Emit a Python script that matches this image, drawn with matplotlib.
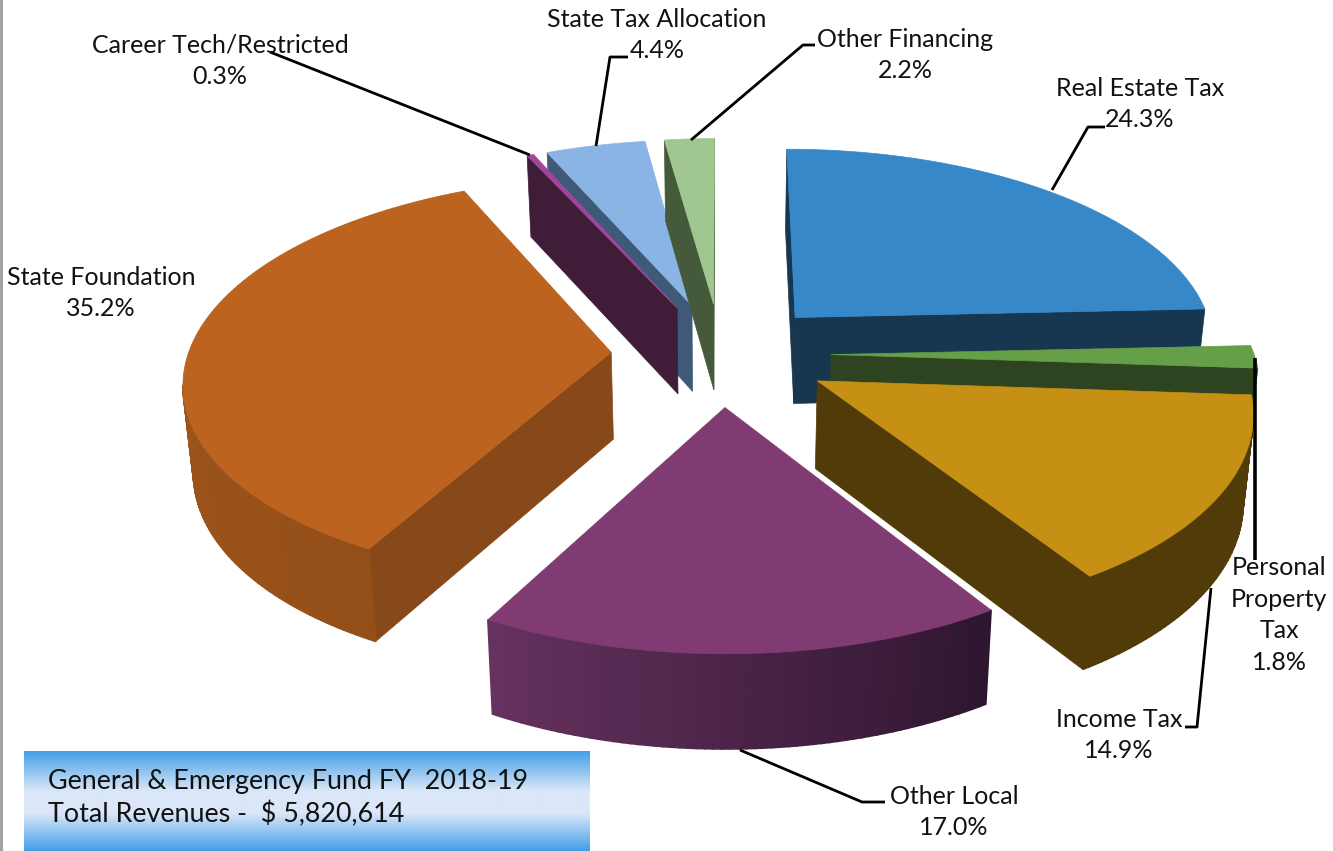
import numpy as np
import matplotlib
matplotlib.use("Agg")
import matplotlib.pyplot as plt
from matplotlib.patches import Polygon, Rectangle
from matplotlib.colors import to_rgb, LinearSegmentedColormap

# ---- data
categories = ["Real Estate Tax", "Personal Property Tax", "Income Tax", "Other Local",
              "State Foundation", "Career Tech/Restricted", "State Tax Allocation", "Other Financing"]
shares = [24.3, 1.8, 14.9, 17.0, 35.2, 0.3, 4.4, 2.2]
top_colors = ["#3688c9", "#659f48", "#c59013", "#803c72", "#bb631f", "#a0469a", "#8ab4e3", "#a0c78f"]
side_start = ["#17364f", "#2e4320", "#513c09", "#66325f", "#a85c1c", "#3f1d38", "#3f5a78", "#455a3a"]
side_end = ["#17364f", "#2e4320", "#513c09", "#2e1530", "#944f19", "#3f1d38", "#3f5a78", "#455a3a"]
cut_colors = ["#17364f", "#2e4320", "#513c09", "#4a2345", "#87491a", "#3f1d38", "#3f5a78", "#455a3a"]
draw_order = [6, 7, 5, 0, 1, 2, 4, 3]

# ---- projection
W, H = 1333, 851
CX, CY = 721.0, 354.0
RX, RY = 423.0, 199.0
PERSP = 0.13
DEPTH = 87.0
SHRINK = 0.02
EXPLODE = 0.26


def project(x, y, low=False):
    w = 1 + PERSP * y
    s = 1 + SHRINK if low else 1
    return (CX + RX * x / (w * s), CY - RY * y / w + (DEPTH / w ** 0.5 if low else 0))


fig = plt.figure(figsize=(W / 100, H / 100), dpi=100)
ax = fig.add_axes([0, 0, 1, 1])
ax.set_xlim(0, W)
ax.set_ylim(H, 0)
ax.axis("off")
plt.rcParams["font.family"] = ["Lato", "DejaVu Sans"]

total = sum(shares)
edges = np.concatenate([[0], np.cumsum(shares)]) / total * 2 * np.pi


def visible(px, py, nx, ny):
    return nx * (0 - px) + ny * (-1 / PERSP - py) > 0


def mix(a, b, t):
    a, b = np.array(to_rgb(a)), np.array(to_rgb(b))
    return tuple(a + (b - a) * t)


for i in draw_order:
    t0, t1 = edges[i], edges[i + 1]
    mid = (t0 + t1) / 2
    ax0, ay0 = EXPLODE * np.sin(mid), EXPLODE * np.cos(mid)
    ts = np.linspace(t0, t1, max(3, int((t1 - t0) * 60)))
    xs = ax0 + np.sin(ts)
    ys = ay0 + np.cos(ts)
    # radial cut faces
    for (ex, ey, nx, ny) in [(xs[0], ys[0], -np.cos(t0), np.sin(t0)),
                             (xs[-1], ys[-1], np.cos(t1), -np.sin(t1))]:
        if visible(ax0, ay0, nx, ny):
            quad = [project(ax0, ay0), project(ex, ey), project(ex, ey, True), project(ax0, ay0, True)]
            ax.add_patch(Polygon(quad, closed=True, fc=cut_colors[i], ec=cut_colors[i], lw=0.5, zorder=2))
    # outer face, strip by strip
    for k in range(len(ts) - 1):
        tm = (ts[k] + ts[k + 1]) / 2
        if visible(ax0 + np.sin(tm), ay0 + np.cos(tm), np.sin(tm), np.cos(tm)):
            c = mix(side_start[i], side_end[i], 1 - (tm - t0) / (t1 - t0))
            quad = [project(xs[k], ys[k]), project(xs[k + 1], ys[k + 1]),
                    project(xs[k + 1], ys[k + 1], True), project(xs[k], ys[k], True)]
            ax.add_patch(Polygon(quad, closed=True, fc=c, ec=c, lw=1.2, zorder=2))
    top = [project(ax0, ay0)] + [project(x, y) for x, y in zip(xs, ys)]
    ax.add_patch(Polygon(top, closed=True, fc=top_colors[i], ec=top_colors[i], lw=0.5, zorder=2))

# ---- leader lines
leaders = [
    ([270, 530], [52, 155], 2.0),
    ([628, 610, 596], [57, 57, 146], 2.0),
    ([815, 803, 691], [45, 45, 140], 2.0),
    ([1105, 1088, 1052], [127, 127, 190], 2.0),
    ([1255, 1255], [358, 560], 2.6),
    ([1185, 1197, 1211], [727, 727, 588], 2.0),
    ([885, 862, 740], [802, 802, 750], 2.0),
]
for xs_, ys_, lw in leaders:
    ax.plot(xs_, ys_, color="black", lw=lw, zorder=3, solid_capstyle="butt")

# ---- labels
FS = 18
labels = [
    (220, 61, "Career Tech/Restricted\n0.3%"),
    (657, 35, "State Tax Allocation\n4.4%"),
    (905, 55, "Other Financing\n2.2%"),
    (1140, 104, "Real Estate Tax\n24.3%"),
    (101, 293, "State Foundation\n35.2%"),
    (1279, 615, "Personal\nProperty\nTax\n1.8%"),
    (1119, 735, "Income Tax\n14.9%"),
    (954, 812, "Other Local\n17.0%"),
]
for x, y, s in labels:
    ax.text(x, y, s, ha="center", va="center", fontsize=FS, color="#111111",
            linespacing=1.45, zorder=4)

# ---- title box
cmap = LinearSegmentedColormap.from_list("box", [(0, "#439fe8"), (0.4, "#dbe7f8"), (0.62, "#dbe7f8"),
                                                 (1, "#439fe8")])
ax.imshow(np.linspace(0, 1, 200).reshape(-1, 1), extent=(24, 590, 851, 751), cmap=cmap,
          aspect="auto", zorder=5, vmin=0, vmax=1)
ax.set_xlim(0, W)
ax.set_ylim(H, 0)
ax.text(48, 781, "General & Emergency Fund FY  2018-19", fontsize=19.4, va="center", color="#111111", zorder=6)
ax.text(48, 814, "Total Revenues -  $ 5,820,614", fontsize=19.4, va="center", color="#111111", zorder=6)

# ---- page edge
ax.add_patch(Rectangle((0, 0), 3, H, fc="#a3a3a3", ec="none", zorder=7))

fig.savefig("out.png", dpi=100)
